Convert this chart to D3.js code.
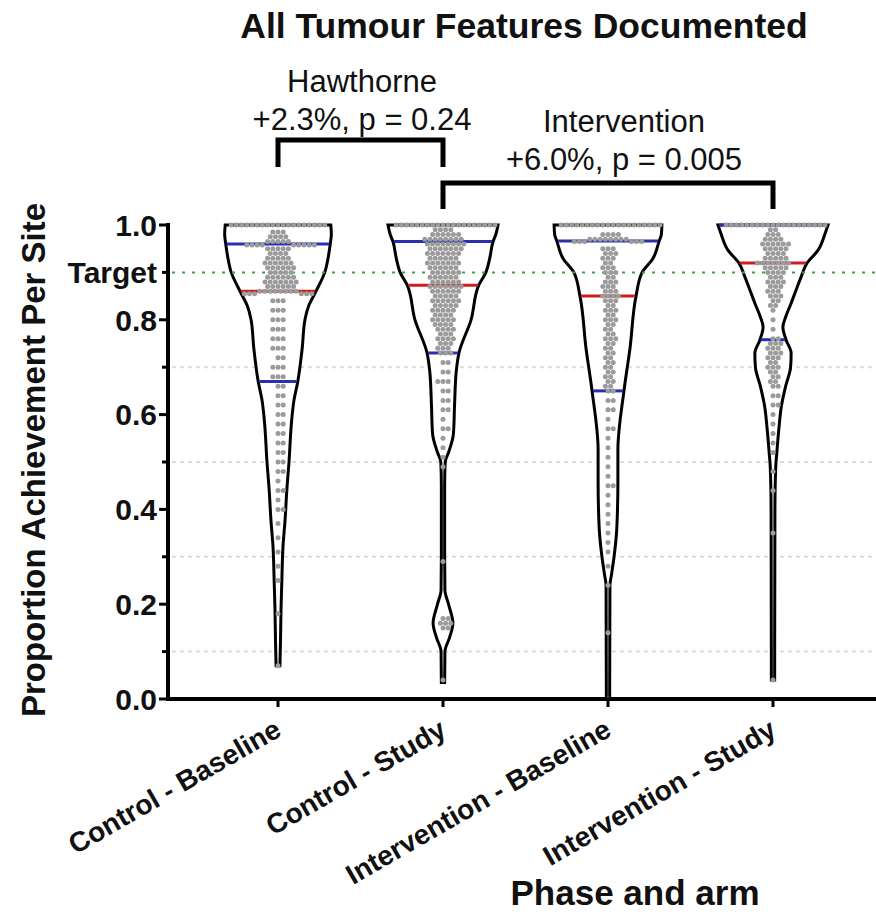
<!DOCTYPE html>
<html lang="en">
<head>
  <meta charset="UTF-8">
  <title>All Tumour Features Documented</title>
  <script src="https://d3js.org/d3.v7.min.js"></script>
  <style type="text/css">
    body { margin: 0; background: #fff; }
    text { font-family: Arial, "Liberation Sans", sans-serif; fill: #111; }
    .violin { fill: #fff; stroke: #000; stroke-width: 3; }
    .dot { fill: #9b9b9b; }
    .grid { stroke: #dcdcdc; stroke-width: 2; stroke-dasharray: 4,4; }
    .target { stroke: #3aa63a; stroke-width: 2; stroke-dasharray: 3,7; }
  </style>
</head>
<body>
<script>

  // categories and summary values
  var categories = ["Control - Baseline", "Control - Study", "Intervention - Baseline", "Intervention - Study"];
  var q1Values = [0.67, 0.73, 0.65, 0.758];
  var medianValues = [0.86, 0.873, 0.85, 0.92];
  var q3Values = [0.96, 0.965, 0.966, 1.0];
  var targetValue = 0.9;
  var yMajorTicks = [0, 0.2, 0.4, 0.6, 0.8, 1.0];
  var yMinorTicks = [0.1, 0.3, 0.5, 0.7];
  var hawthorneText = ["Hawthorne", "+2.3%, p = 0.24"];
  var interventionText = ["Intervention", "+6.0%, p = 0.005"];

  // violin outlines: [value, relative density]
  var cbDensity = [[1.0,0.96],[0.98,0.97],[0.96,0.95],[0.93,0.91],[0.9,0.85],[0.86,0.69],[0.83,0.56],[0.8,0.49],[0.74,0.44],[0.67,0.36],[0.63,0.29],[0.59,0.25],[0.5,0.2],[0.44,0.16],[0.38,0.13],[0.32,0.09],[0.25,0.07],[0.19,0.055],[0.12,0.045],[0.07,0.035]];
  var csDensity = [[1.0,1.0],[0.98,0.96],[0.965,0.91],[0.93,0.85],[0.9,0.78],[0.873,0.65],[0.8,0.51],[0.73,0.29],[0.69,0.24],[0.62,0.21],[0.56,0.19],[0.52,0.1],[0.5,0.04],[0.45,0.03],[0.3,0.03],[0.23,0.035],[0.2,0.1],[0.16,0.18],[0.13,0.12],[0.1,0.035],[0.035,0.03]];
  var ibDensity = [[1.0,0.98],[0.98,0.97],[0.966,0.93],[0.93,0.82],[0.9,0.62],[0.85,0.51],[0.74,0.4],[0.65,0.29],[0.525,0.18],[0.46,0.18],[0.36,0.16],[0.3,0.11],[0.26,0.06],[0.24,0.035],[0.0,0.03]];
  var isDensity = [[1.0,1.0],[0.983,0.95],[0.947,0.82],[0.92,0.62],[0.89,0.51],[0.863,0.42],[0.835,0.33],[0.806,0.23],[0.785,0.18],[0.757,0.24],[0.73,0.33],[0.7,0.32],[0.66,0.23],[0.616,0.15],[0.574,0.11],[0.52,0.07],[0.49,0.05],[0.4,0.035],[0.04,0.03]];

  // site values: [value, number of sites]
  var cbPoints = [[1.0,19],[0.985,3],[0.975,4],[0.965,5],[0.958,9],[0.95,5],[0.94,4],[0.93,5],[0.92,6],[0.91,6],[0.9,5],[0.89,6],[0.88,7],[0.87,6],[0.86,8],[0.855,6],[0.84,3],[0.82,3],[0.8,3],[0.78,3],[0.76,3],[0.74,3],[0.72,2],[0.7,3],[0.68,3],[0.66,2],[0.64,2],[0.62,2],[0.6,2],[0.58,2],[0.56,2],[0.54,2],[0.52,2],[0.5,2],[0.48,2],[0.46,1],[0.44,2],[0.42,1],[0.4,2],[0.37,1],[0.34,1],[0.31,1],[0.28,1],[0.25,1],[0.18,1],[0.07,1]];
  var csPoints = [[1.0,20],[0.99,4],[0.98,6],[0.97,8],[0.96,8],[0.95,7],[0.94,7],[0.93,6],[0.92,7],[0.91,6],[0.9,6],[0.89,6],[0.88,6],[0.87,7],[0.86,6],[0.85,5],[0.84,6],[0.83,5],[0.82,5],[0.81,4],[0.8,5],[0.79,4],[0.78,4],[0.77,3],[0.76,4],[0.75,3],[0.74,3],[0.73,3],[0.71,2],[0.69,2],[0.67,3],[0.65,2],[0.63,2],[0.61,2],[0.59,1],[0.57,2],[0.55,1],[0.53,1],[0.51,1],[0.49,1],[0.29,1],[0.17,2],[0.16,3],[0.15,2],[0.04,1]];
  var ibPoints = [[1.0,20],[0.98,4],[0.97,8],[0.965,6],[0.95,3],[0.94,3],[0.93,3],[0.92,2],[0.91,3],[0.9,3],[0.89,2],[0.88,3],[0.87,3],[0.86,3],[0.85,4],[0.84,3],[0.83,2],[0.82,3],[0.81,2],[0.8,3],[0.79,2],[0.78,2],[0.77,2],[0.76,3],[0.75,2],[0.74,2],[0.73,2],[0.72,2],[0.71,2],[0.7,2],[0.69,2],[0.68,2],[0.67,2],[0.66,2],[0.65,2],[0.63,2],[0.61,2],[0.59,1],[0.57,2],[0.55,1],[0.53,1],[0.51,1],[0.49,1],[0.47,1],[0.45,2],[0.43,1],[0.41,1],[0.39,1],[0.37,1],[0.35,1],[0.33,1],[0.31,1],[0.28,1],[0.24,1],[0.14,1],[0.0,1]];
  var isPoints = [[1.0,20],[0.99,2],[0.98,3],[0.97,4],[0.96,6],[0.95,5],[0.94,4],[0.93,5],[0.92,7],[0.91,5],[0.9,4],[0.89,3],[0.88,4],[0.87,3],[0.86,3],[0.85,3],[0.84,2],[0.83,2],[0.82,1],[0.8,1],[0.78,1],[0.76,2],[0.75,3],[0.74,3],[0.73,3],[0.72,3],[0.71,2],[0.7,3],[0.69,2],[0.68,2],[0.67,2],[0.66,2],[0.64,2],[0.62,2],[0.6,1],[0.58,1],[0.56,1],[0.54,1],[0.52,1],[0.48,1],[0.44,1],[0.35,1],[0.04,1]];

  var densities = [cbDensity, csDensity, ibDensity, isDensity];
  var points = [cbPoints, csPoints, ibPoints, isPoints];

  var width = 876, height = 917;
  var axisLeft = 168, plotTop = 225, plotBottom = 699;

  var svg = d3.select("body").append("svg")
    .attr("width", width)
    .attr("height", height);

  var y = d3.scaleLinear().domain([0, 1]).range([plotBottom, plotTop]);
  var x = d3.scalePoint().domain(categories).range([278, 773]);
  var w = d3.scaleLinear().domain([0, 1]).range([0, 55]);

  // faint grid lines at the minor ticks
  svg.selectAll(".grid")
    .data(yMinorTicks)
    .enter().append("line")
    .attr("class", "grid")
    .attr("x1", axisLeft + 4).attr("x2", width)
    .attr("y1", function(d) { return y(d); })
    .attr("y2", function(d) { return y(d); });

  // violins
  categories.forEach(function(cat, i) {
    var cx = x(cat);
    var area = d3.area()
      .curve(d3.curveMonotoneY)
      .y(function(d) { return y(d[0]); })
      .x0(function(d) { return cx - w(d[1]); })
      .x1(function(d) { return cx + w(d[1]); });
    svg.append("path")
      .datum(densities[i])
      .attr("class", "violin")
      .attr("d", area);
  });

  // target line
  svg.append("line")
    .attr("class", "target")
    .attr("x1", axisLeft + 4).attr("x2", width)
    .attr("y1", y(targetValue)).attr("y2", y(targetValue));

  // width of a violin at a value (linear between outline points)
  function halfWidth(dens, v) {
    for (var k = 0; k < dens.length - 1; k++) {
      var a = dens[k], b = dens[k + 1];
      if (v <= a[0] && v >= b[0]) {
        var t = (a[0] - v) / (a[0] - b[0]);
        return w(a[1] + t * (b[1] - a[1]));
      }
    }
    return w(dens[0][1]);
  }

  // quartile and median lines
  categories.forEach(function(cat, i) {
    var cx = x(cat);
    [[q1Values[i], "#2a2fb0"], [q3Values[i], "#2a2fb0"], [medianValues[i], "#cc1f1f"]].forEach(function(q) {
      var hw = halfWidth(densities[i], q[0]) - 1;
      svg.append("line")
        .attr("x1", cx - hw).attr("x2", cx + hw)
        .attr("y1", y(q[0])).attr("y2", y(q[0]))
        .attr("stroke", q[1])
        .attr("stroke-width", 3);
    });
  });

  // simple beeswarm of the site values
  function swarm(counts, cx) {
    var vals = [];
    counts.forEach(function(c) { for (var n = 0; n < c[1]; n++) vals.push(c[0]); });
    var placed = [], d = 5.2, step = d / 2;
    vals.forEach(function(v) {
      var py = y(v);
      for (var k = 0; k < 400; k++) {
        var off = (k % 2 ? 1 : -1) * Math.ceil(k / 2) * step;
        var px = cx + off;
        var hit = placed.some(function(p) {
          var dx = p[0] - px, dy = p[1] - py;
          return dx * dx + dy * dy < d * d - 0.01;
        });
        if (!hit) { placed.push([px, py]); break; }
      }
    });
    return placed;
  }

  categories.forEach(function(cat, i) {
    svg.append("g").selectAll("circle")
      .data(swarm(points[i], x(cat)))
      .enter().append("circle")
      .attr("class", "dot")
      .attr("cx", function(d) { return d[0]; })
      .attr("cy", function(d) { return d[1]; })
      .attr("r", 2.5);
  });

  // y axis
  var yAxis = svg.append("g");
  yAxis.append("line")
    .attr("x1", axisLeft).attr("x2", axisLeft)
    .attr("y1", plotTop - 2).attr("y2", plotBottom + 2)
    .attr("stroke", "#000").attr("stroke-width", 4);
  yAxis.selectAll(".major")
    .data(yMajorTicks)
    .enter().append("line")
    .attr("x1", axisLeft - 9).attr("x2", axisLeft)
    .attr("y1", function(d) { return y(d); })
    .attr("y2", function(d) { return y(d); })
    .attr("stroke", "#000").attr("stroke-width", 3);
  yAxis.selectAll(".minor")
    .data(yMinorTicks.concat([targetValue]))
    .enter().append("line")
    .attr("x1", axisLeft - 6).attr("x2", axisLeft)
    .attr("y1", function(d) { return y(d); })
    .attr("y2", function(d) { return y(d); })
    .attr("stroke", "#000").attr("stroke-width", 3);
  yAxis.selectAll(".lab")
    .data(yMajorTicks)
    .enter().append("text")
    .attr("x", axisLeft - 11)
    .attr("y", function(d) { return y(d); })
    .attr("dy", "0.36em")
    .attr("text-anchor", "end")
    .attr("font-size", "30px")
    .attr("font-weight", "bold")
    .text(function(d) { return d3.format(".1f")(d); });
  yAxis.append("text")
    .attr("x", axisLeft - 11)
    .attr("y", y(targetValue))
    .attr("dy", "0.36em")
    .attr("text-anchor", "end")
    .attr("font-size", "30px")
    .attr("font-weight", "bold")
    .text("Target");

  svg.append("text")
    .attr("transform", "translate(45," + ((plotTop + plotBottom) / 2 - 2) + ") rotate(-90)")
    .attr("text-anchor", "middle")
    .attr("font-size", "33px")
    .attr("font-weight", "bold")
    .text("Proportion Achievement Per Site");

  // x axis
  var xAxis = svg.append("g");
  xAxis.append("line")
    .attr("x1", axisLeft - 2).attr("x2", width)
    .attr("y1", plotBottom).attr("y2", plotBottom)
    .attr("stroke", "#000").attr("stroke-width", 4);
  xAxis.selectAll(".tick")
    .data(categories)
    .enter().append("line")
    .attr("x1", function(d) { return x(d); })
    .attr("x2", function(d) { return x(d); })
    .attr("y1", plotBottom).attr("y2", plotBottom + 8)
    .attr("stroke", "#000").attr("stroke-width", 3);
  xAxis.selectAll(".lab")
    .data(categories)
    .enter().append("text")
    .attr("transform", function(d) { return "translate(" + (x(d) + 5) + "," + (plotBottom + 36) + ") rotate(-30)"; })
    .attr("text-anchor", "end")
    .attr("font-size", "28px")
    .attr("font-weight", "bold")
    .text(function(d) { return d; });

  svg.append("text")
    .attr("x", 635).attr("y", 905)
    .attr("text-anchor", "middle")
    .attr("font-size", "35px")
    .attr("font-weight", "bold")
    .text("Phase and arm");

  // title
  svg.append("text")
    .attr("x", 524).attr("y", 38)
    .attr("text-anchor", "middle")
    .attr("font-size", "35.5px")
    .attr("font-weight", "bold")
    .text("All Tumour Features Documented");

  // comparison brackets
  function bracket(a, b, top, legBottom, lines, textX, firstBaseline) {
    svg.append("path")
      .attr("d", "M" + x(a) + "," + legBottom + "V" + top + "H" + x(b) + "V" + legBottom)
      .attr("fill", "none")
      .attr("stroke", "#000")
      .attr("stroke-width", 5);
    lines.forEach(function(t, k) {
      svg.append("text")
        .attr("x", textX)
        .attr("y", firstBaseline + k * 38)
        .attr("text-anchor", "middle")
        .attr("font-size", "31px")
        .text(t);
    });
  }
  bracket(categories[0], categories[1], 140, 167, hawthorneText, 362, 92);
  bracket(categories[1], categories[3], 183, 209, interventionText, 624, 132);

</script>
</body>
</html>
